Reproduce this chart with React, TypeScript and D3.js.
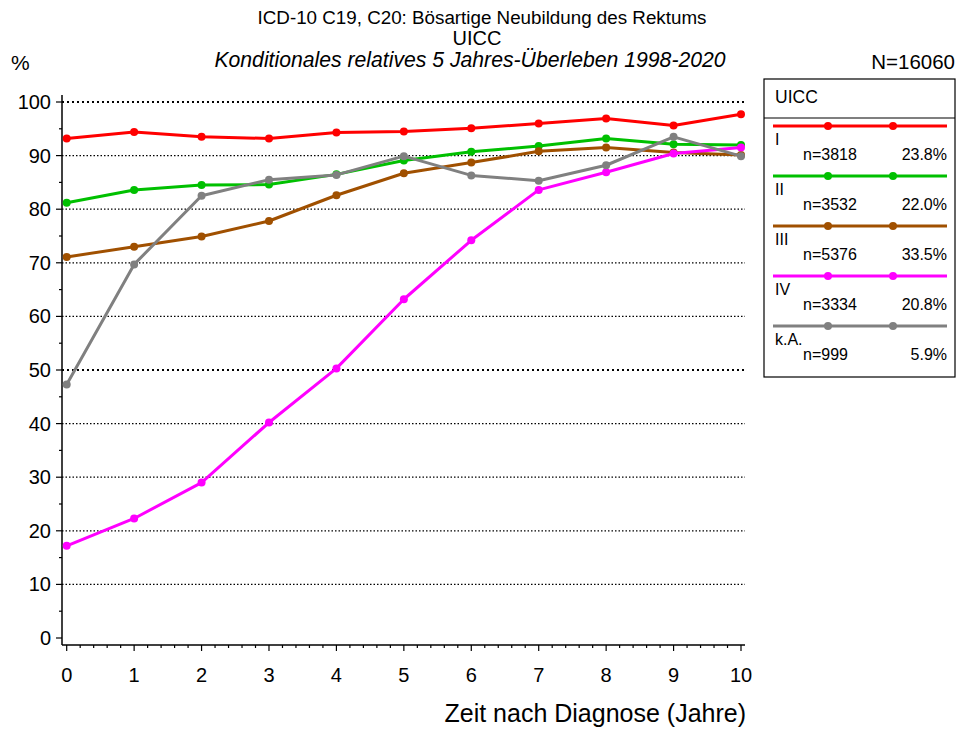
import React from "react";
import * as d3 from "d3";

const years = [0, 1, 2, 3, 4, 5, 6, 7, 8, 9, 10];
const seriesNames = ["I", "II", "III", "IV", "k.A."];
const seriesColors = ["#ff0000", "#00c000", "#a05000", "#ff00ff", "#808080"];
const seriesN = ["n=3818", "n=3532", "n=5376", "n=3334", "n=999"];
const seriesPct = ["23.8%", "22.0%", "33.5%", "20.8%", "5.9%"];
const valuesI = [93.2, 94.4, 93.5, 93.2, 94.3, 94.5, 95.1, 96.0, 96.9, 95.6, 97.7];
const valuesII = [81.2, 83.6, 84.5, 84.6, 86.5, 89.1, 90.7, 91.8, 93.2, 92.1, 92.0];
const valuesIII = [71.1, 73.0, 74.9, 77.8, 82.6, 86.7, 88.7, 90.8, 91.5, 90.6, 90.1];
const valuesIV = [17.2, 22.3, 29.0, 40.2, 50.3, 63.2, 74.2, 83.6, 86.9, 90.4, 91.5];
const valuesKA = [47.3, 69.7, 82.5, 85.5, 86.4, 89.9, 86.3, 85.3, 88.2, 93.5, 89.9];
const yTicks = [0, 10, 20, 30, 40, 50, 60, 70, 80, 90, 100];
const yMinor = [5, 15, 25, 35, 45, 55, 65, 75, 85, 95];
const xMinor = d3.range(0, 10.01, 0.2).map((v) => Math.round(v * 10) / 10);

const allSeries = [valuesI, valuesII, valuesIII, valuesIV, valuesKA];

export default function App() {
  const W = 959, H = 729;
  const font = "'Liberation Sans', Arial, sans-serif";
  const x = d3.scaleLinear().domain([0, 10]).range([66.7, 741]);
  const y = d3.scaleLinear().domain([0, 100]).range([638, 102]);
  const axisX = 62, axisY = 645, gridRight = 745;
  const line = d3.line<number>().x((_, i) => x(years[i])).y((d) => y(d));

  const lgLeft = 764, lgTop = 79, lgRight = 955, lgBottom = 377;
  const lgLineX0 = 773, lgLineX1 = 947;

  return (
    <svg width={W} height={H} style={{ position: "absolute", left: 0, top: 0 }} fontFamily={font}>
      <rect width={W} height={H} fill="#fff" />
      {/* titles */}
      <text x={482} y={24} fontSize={18.8} textAnchor="middle">ICD-10 C19, C20: Bösartige Neubildung des Rektums</text>
      <text x={477} y={45} fontSize={20} textAnchor="middle">UICC</text>
      <text x={470} y={67} fontSize={21.2} fontStyle="italic" textAnchor="middle">Konditionales relatives 5 Jahres-Überleben 1998-2020</text>
      <text x={11} y={70} fontSize={21}>%</text>
      <text x={955} y={69} fontSize={20.5} textAnchor="end">N=16060</text>

      {/* gridlines */}
      {yTicks.filter((t) => t > 0).map((t) => (
        <line key={"g" + t} x1={axisX} x2={gridRight} y1={y(t)} y2={y(t)} stroke="#000"
          strokeWidth={t === 50 || t === 100 ? 2 : 1.2} strokeDasharray={t === 50 || t === 100 ? "2,3" : "1.5,2"} />
      ))}

      {/* axes */}
      <line x1={axisX} x2={axisX} y1={95} y2={axisY} stroke="#000" strokeWidth={1.5} />
      <line x1={axisX} x2={gridRight} y1={axisY} y2={axisY} stroke="#000" strokeWidth={1.5} />
      {yTicks.map((t) => (
        <g key={"yt" + t}>
          <line x1={axisX - 6} x2={axisX} y1={y(t)} y2={y(t)} stroke="#000" strokeWidth={1.2} />
          <text x={51} y={y(t) + 7} fontSize={20} textAnchor="end">{t}</text>
        </g>
      ))}
      {yMinor.map((t) => (
        <line key={"ym" + t} x1={axisX - 3} x2={axisX} y1={y(t)} y2={y(t)} stroke="#000" strokeWidth={1.2} />
      ))}
      {xMinor.map((t) => (
        <line key={"xm" + t} x1={x(t)} x2={x(t)} y1={axisY} y2={axisY + (Number.isInteger(t) ? 6 : 3)} stroke="#000" strokeWidth={1.2} />
      ))}
      {years.map((t) => (
        <text key={"xt" + t} x={x(t)} y={682} fontSize={20} textAnchor="middle">{t}</text>
      ))}
      <text x={746} y={722} fontSize={25} textAnchor="end">Zeit nach Diagnose (Jahre)</text>

      {/* series */}
      {allSeries.map((vals, si) => (
        <g key={"s" + si}>
          <path d={line(vals) || ""} fill="none" stroke={seriesColors[si]} strokeWidth={3} strokeLinejoin="round" />
          {vals.map((v, i) => (
            <circle key={i} cx={x(years[i])} cy={y(v)} r={4} fill={seriesColors[si]} />
          ))}
        </g>
      ))}

      {/* legend */}
      <rect x={lgLeft} y={lgTop} width={lgRight - lgLeft} height={lgBottom - lgTop} fill="#fff" stroke="#000" strokeWidth={1.2} />
      <line x1={lgLeft} x2={lgRight} y1={118} y2={118} stroke="#000" strokeWidth={1.2} />
      <text x={775} y={103} fontSize={17.5}>UICC</text>
      {seriesNames.map((name, i) => {
        const ly = 126 + i * 50;
        return (
          <g key={"lg" + i}>
            <line x1={lgLineX0} x2={lgLineX1} y1={ly} y2={ly} stroke={seriesColors[i]} strokeWidth={3} />
            <circle cx={828} cy={ly} r={4} fill={seriesColors[i]} />
            <circle cx={893} cy={ly} r={4} fill={seriesColors[i]} />
            <text x={775} y={ly + 19} fontSize={16}>{name}</text>
            <text x={803} y={ly + 34} fontSize={16}>{seriesN[i]}</text>
            <text x={947} y={ly + 34} fontSize={16} textAnchor="end">{seriesPct[i]}</text>
          </g>
        );
      })}
    </svg>
  );
}
